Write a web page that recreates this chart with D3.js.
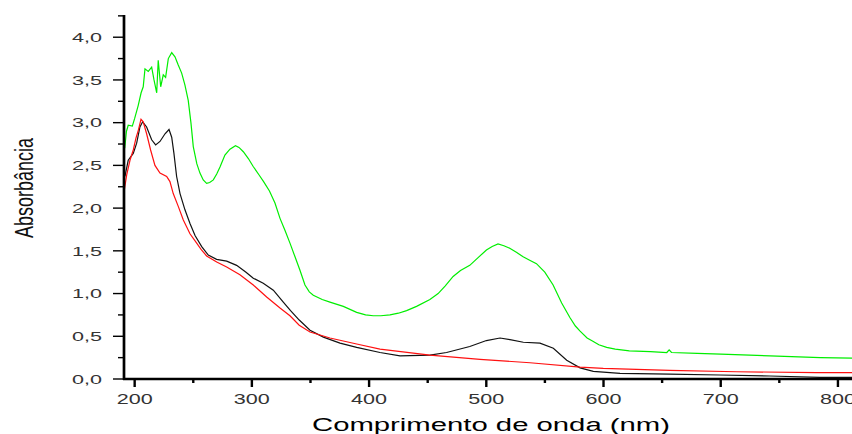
<meta charset="utf-8" />
<style>
	body { margin: 0; }
	svg { display: block; }
</style>
<svg width="852" height="434"></svg>
<script src="https://cdn.jsdelivr.net/npm/d3@7"></script>
<script>
	// wavelengths (nm) and absorbance
	var greenNm = [191.5, 193, 194.5, 198, 200, 203, 205.5, 207.3, 208.8, 211.6, 214.5, 216.5, 218.8, 220.1, 222.2, 224.4, 226.4, 228.7, 231.6, 234.4, 237, 240.1, 242.9, 245.7, 248, 250, 253, 255.7, 258.5, 261.4, 264, 267.1, 270, 272.8, 277, 281.3, 286, 289, 292.7, 297, 301, 306, 310, 315, 319.7, 324, 328.2, 332.5, 336.8, 341.1, 345.3, 349, 352.4, 360, 366.6, 378, 389.4, 397, 403.6, 410, 417.8, 425, 432, 440.5, 451.9, 458.9, 465, 471.7, 478, 485.9, 493, 500.1, 505, 510, 515, 520, 526, 531.4, 537, 542.8, 549.9, 557, 564.3, 571.3, 576, 580, 586, 591.3, 596, 602.7, 610, 622, 640, 654, 656, 658, 680, 700, 742, 785, 812];
	var greenAbs = [2.7, 2.9, 2.97, 2.96, 3.05, 3.2, 3.35, 3.42, 3.63, 3.6, 3.65, 3.5, 3.35, 3.73, 3.42, 3.56, 3.53, 3.75, 3.82, 3.77, 3.68, 3.58, 3.44, 3.26, 3.0, 2.72, 2.52, 2.41, 2.33, 2.29, 2.3, 2.33, 2.4, 2.48, 2.62, 2.69, 2.73, 2.71, 2.66, 2.58, 2.49, 2.39, 2.31, 2.2, 2.06, 1.88, 1.74, 1.59, 1.43, 1.27, 1.1, 1.02, 0.98, 0.93, 0.9, 0.85, 0.78, 0.75, 0.74, 0.74, 0.75, 0.77, 0.8, 0.85, 0.93, 1.0, 1.09, 1.2, 1.27, 1.33, 1.42, 1.51, 1.55, 1.58, 1.56, 1.53, 1.48, 1.43, 1.39, 1.35, 1.25, 1.1, 0.89, 0.72, 0.62, 0.56, 0.48, 0.44, 0.4, 0.37, 0.35, 0.33, 0.32, 0.31, 0.34, 0.31, 0.3, 0.29, 0.27, 0.25, 0.245];

	var blackNm = [191.7, 194.5, 198.8, 201.7, 204.5, 206.8, 210.2, 214.5, 217.9, 221.6, 225.9, 229.3, 231.6, 233.5, 235.8, 238.7, 242.9, 247.2, 251.5, 257.2, 262.8, 269.9, 278.5, 287, 295, 301.2, 309.7, 318.3, 326.8, 333, 340.4, 349.6, 361, 375.2, 389.4, 409.3, 426.4, 451.9, 466.1, 485.9, 500.1, 511.7, 520.2, 531.6, 545.8, 557.2, 568.6, 580, 591.3, 614.1, 656.4, 699.1, 742, 784.6, 812];
	var blackAbs = [2.37, 2.56, 2.64, 2.76, 2.95, 3.01, 2.95, 2.8, 2.74, 2.78, 2.87, 2.92, 2.83, 2.64, 2.37, 2.17, 1.98, 1.82, 1.68, 1.55, 1.45, 1.4, 1.38, 1.33, 1.25, 1.18, 1.12, 1.04, 0.9, 0.8, 0.69, 0.57, 0.49, 0.42, 0.37, 0.31, 0.27, 0.28, 0.31, 0.38, 0.45, 0.48, 0.46, 0.43, 0.42, 0.36, 0.22, 0.13, 0.09, 0.066, 0.058, 0.047, 0.035, 0.02, 0.02];

	var redNm = [190.9, 193.2, 196, 198.8, 201.1, 203.1, 205.4, 207.3, 210.2, 213.6, 217.3, 221.6, 227.3, 230.1, 232.9, 237.2, 241.5, 247.2, 252.9, 257, 261.4, 270, 278.5, 289.8, 301.2, 312.6, 324, 332.5, 340.4, 349.6, 366.6, 389.4, 409.3, 451.9, 494.6, 537.3, 580, 599.8, 656.4, 713.7, 781.9, 812];
	var redAbs = [2.19, 2.39, 2.56, 2.68, 2.82, 2.91, 3.04, 3.01, 2.87, 2.68, 2.5, 2.41, 2.37, 2.31, 2.17, 2.02, 1.86, 1.7, 1.59, 1.51, 1.44, 1.37, 1.31, 1.22, 1.1, 0.96, 0.83, 0.74, 0.63, 0.55, 0.48, 0.41, 0.35, 0.28, 0.23, 0.19, 0.14, 0.125, 0.1, 0.085, 0.075, 0.075];

	var xTicks = [200, 300, 400, 500, 600, 700, 800];
	var xMinor = [250, 350, 450, 550, 650, 750];
	var yTicks = [0, 0.5, 1, 1.5, 2, 2.5, 3, 3.5, 4];
	var yMinor = [0.25, 0.75, 1.25, 1.75, 2.25, 2.75, 3.25, 3.75, 4.25];

	var svg = d3.select('svg');
	svg.append('rect').attr('width', 852).attr('height', 434).attr('fill', '#fff');

	var x = d3.scaleLinear().domain([190.9, 812]).range([124, 852]);
	var y = d3.scaleLinear().domain([0, 4.26]).range([379, 15]);

	var line = d3
		.line()
		.x(d => x(d[0]))
		.y(d => y(d[1]));

	function draw(nm, abs, color) {
		svg.append('path')
			.datum(d3.zip(nm, abs))
			.attr('fill', 'none')
			.attr('stroke', color)
			.attr('stroke-width', 1.2)
			.attr('d', line);
	}

	draw(greenNm, greenAbs, '#00ee00');
	draw(blackNm, blackAbs, '#111');
	draw(redNm, redAbs, '#ff1010');

	// y axis
	var yAxis = svg.append('g').attr('transform', 'translate(124,0)');
	yAxis.append('line')
		.attr('y1', y(4.26)).attr('y2', 380)
		.attr('stroke', '#000').attr('stroke-width', 2.7);
	yAxis.selectAll('.maj').data(yTicks).enter().append('line')
		.attr('x1', -11).attr('x2', 0)
		.attr('y1', d => y(d)).attr('y2', d => y(d))
		.attr('stroke', '#000').attr('stroke-width', 1.4);
	yAxis.selectAll('.min').data(yMinor).enter().append('line')
		.attr('x1', -6).attr('x2', 0)
		.attr('y1', d => y(d)).attr('y2', d => y(d))
		.attr('stroke', '#000').attr('stroke-width', 1.4);
	yAxis.selectAll('text').data(yTicks).enter().append('text')
		.attr('x', -22).attr('y', d => y(d) + 4.7)
		.attr('text-anchor', 'end')
		.attr('font-family', 'Liberation Sans, Arial, sans-serif')
		.attr('font-size', 12)
		.attr('fill', '#333')
		.attr('textLength', 30).attr('lengthAdjust', 'spacingAndGlyphs')
		.text(d => d3.format('.1f')(d).replace('.', ','));

	// x axis
	var xAxis = svg.append('g').attr('transform', 'translate(0,379)');
	xAxis.append('line')
		.attr('x1', 123).attr('x2', 852)
		.attr('stroke', '#000').attr('stroke-width', 2.7);
	xAxis.selectAll('.maj').data(xTicks).enter().append('line')
		.attr('x1', d => x(d)).attr('x2', d => x(d))
		.attr('y1', 0).attr('y2', 8)
		.attr('stroke', '#000').attr('stroke-width', 2.4);
	xAxis.selectAll('.min').data(xMinor).enter().append('line')
		.attr('x1', d => x(d)).attr('x2', d => x(d))
		.attr('y1', 0).attr('y2', 4)
		.attr('stroke', '#000').attr('stroke-width', 2.4);
	xAxis.selectAll('text').data(xTicks).enter().append('text')
		.attr('x', d => x(d)).attr('y', 25)
		.attr('text-anchor', 'middle')
		.attr('font-family', 'Liberation Sans, Arial, sans-serif')
		.attr('font-size', 15)
		.attr('fill', '#333')
		.attr('textLength', 36).attr('lengthAdjust', 'spacingAndGlyphs')
		.text(d => d);

	svg.append('text')
		.attr('x', 491).attr('y', 431)
		.attr('text-anchor', 'middle')
		.attr('font-family', 'Liberation Sans, Arial, sans-serif')
		.attr('font-size', 18)
		.attr('fill', '#000')
		.attr('textLength', 358).attr('lengthAdjust', 'spacingAndGlyphs')
		.text('Comprimento de onda (nm)');

	svg.append('text')
		.attr('transform', 'translate(33,188) rotate(-90)')
		.attr('text-anchor', 'middle')
		.attr('font-family', 'Liberation Sans, Arial, sans-serif')
		.attr('font-size', 26)
		.attr('fill', '#111')
		.attr('textLength', 100).attr('lengthAdjust', 'spacingAndGlyphs')
		.text('Absorbância');
</script>
